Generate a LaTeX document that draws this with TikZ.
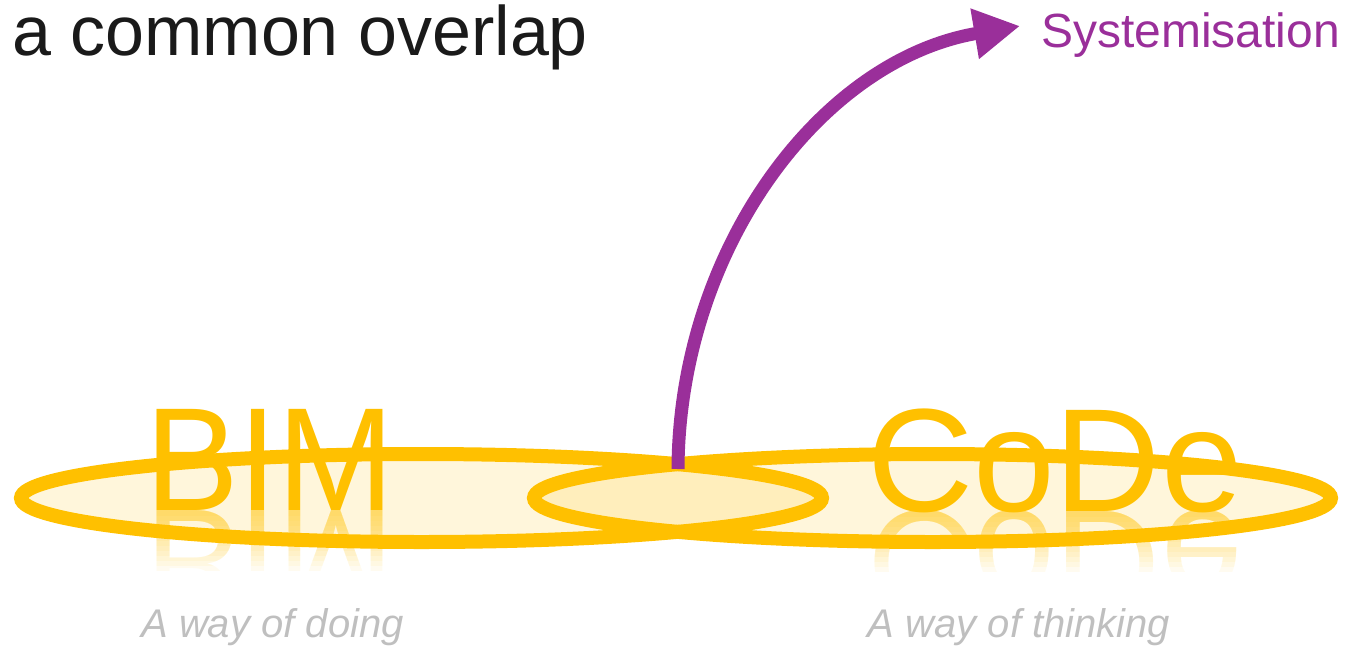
\documentclass[tikz,border=0pt]{standalone}
\usepackage{fontspec}
\setmainfont{Liberation Sans}
\usetikzlibrary{shapes.geometric,arrows.meta}
\definecolor{gold}{HTML}{FFC000}
\definecolor{plum}{HTML}{9A2F9A}
\definecolor{inkc}{HTML}{1A1A1A}
\definecolor{mute}{HTML}{BFBFBF}
\newcommand\mirrorword[4]{%
  \begin{scope}[shift={(#1,#2)}]
    \foreach \layer in {1,...,12}{
      \begin{scope}
        \clip (-220,0) rectangle (220,5*\layer);
        \node[bigword, anchor=base, yscale=-1, transform shape, opacity=0.06] (#4\layer) at (0,0) {#3};
      \end{scope}
    }
  \end{scope}
}
\begin{document}
\begin{tikzpicture}[x=1pt,y=-1pt,
  bigword/.style={font=\fontsize{147}{150}\selectfont, text=gold, inner sep=0pt},
  ring/.style={ellipse, draw=gold, line width=14pt, fill=gold, fill opacity=0.14, draw opacity=1, inner sep=0pt, minimum height=88pt},
  tag/.style={font=\itshape\fontsize{40}{44}\selectfont, text=mute, inner sep=0pt, anchor=base},
  arrowline/.style={draw=plum, line width=13pt, -{Triangle[length=46pt,width=48pt]}}]
\useasboundingbox (0,0) rectangle (1347,646);

% reflections
\mirrorword{270}{510}{\scalebox{0.955}[1]{BIM}}{bimR}
\mirrorword{1055}{511}{CoDe}{codeR}

% ellipses
\node[ring, minimum width=801pt] (bimE) at (421.5,498) {};
\node[ring, minimum width=797pt] (codeE) at (932.5,498) {};

% words
\node[bigword, anchor=base] (bim) at (270,510) {\scalebox{0.955}[1]{BIM}};
\node[bigword, anchor=base] (code) at (1055,511) {CoDe};

% titles
\node[font=\fontsize{70}{80}\selectfont, text=inkc, inner sep=0pt, anchor=base west] (title) at (12,55) {a common overlap};
\node[font=\fontsize{48}{56}\selectfont, text=plum, inner sep=0pt, anchor=base west] (sys) at (1041,47) {Systemisation};

% subtitles
\node[tag] (doing) at (272.5,637) {A way of doing};
\node[tag] (thinking) at (1019,637) {A way of thinking};

% arrow
\coordinate (ov) at (678,469);
\coordinate (tip) at (1020,26);
\draw[arrowline] (ov) .. controls (679,250) and (820,60) .. (tip);
\end{tikzpicture}
\end{document}
